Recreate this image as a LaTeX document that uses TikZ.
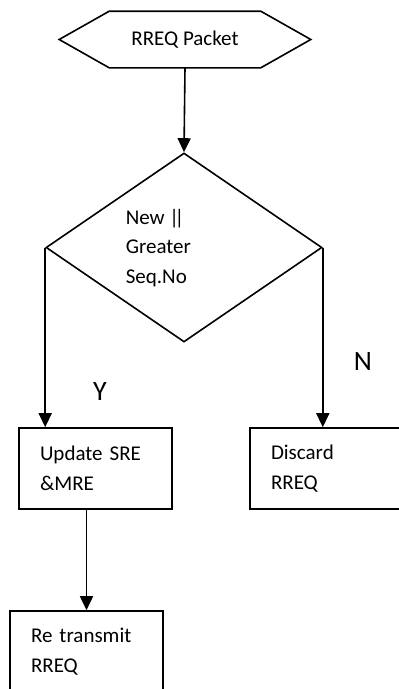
\documentclass[tikz,border=0pt]{standalone}
\usepackage{fontspec}
\setmainfont{Carlito}
\usetikzlibrary{arrows.meta,shapes.geometric}
\begin{document}
\begin{tikzpicture}[x=1pt,y=-1pt,
  line width=1.6pt,
  flow/.style={-{Triangle[width=13pt,length=14pt]}},
  body/.style={font=\fontsize{21}{29.5}\selectfont},
  stepbox/.style={draw, rectangle, minimum width=153pt, minimum height=81pt,
    inner xsep=20pt, text width=111pt, align=left, body},
  decision/.style={draw, diamond, minimum width=276pt, minimum height=189pt, inner sep=0pt},
  yn/.style={font=\fontsize{28}{32}\selectfont, inner sep=0pt}]
\useasboundingbox (0,0) rectangle (399,689);
\clip (0,0) rectangle (399,689);

% start: hexagon terminal
\node[minimum width=250pt, minimum height=55pt, inner sep=0pt, body] (pkt) at (185,39.5) {RREQ Packet};
\draw (pkt.west) -- ([xshift=50pt]pkt.north west) -- ([xshift=-50pt]pkt.north east)
  -- (pkt.east) -- ([xshift=-50pt]pkt.south east) -- ([xshift=50pt]pkt.south west) -- cycle;

% sequence number test
\node[decision] (dec) at (184,247.5) {};
\node[body, anchor=base west, align=left, inner sep=0pt] (dtxt) at (125,283)
  {New |\kern-4.5pt|\\Greater\\Seq.No};

% outcomes
\node[stepbox] (upd) at (95.5,468.5) {Update SRE\\\&MRE};
\node[stepbox] (dis) at (326.5,468.5) {Discard\\RREQ};
\node[stepbox] (ret) at (86.5,651.5) {Re transmit\\RREQ};

% connectors
\draw[flow] (pkt.south) -- (dec.north);
\draw[flow] (dec.west) -- (dec.west |- upd.north);
\draw[flow] (dec.east) -- (dec.east |- dis.north);
\draw[flow] (upd.south -| ret.north) -- (ret.north);

% branch labels
\node[yn] (ylab) at (100,392) {Y};
\node[yn] (nlab) at (363,362) {N};
\end{tikzpicture}
\end{document}
